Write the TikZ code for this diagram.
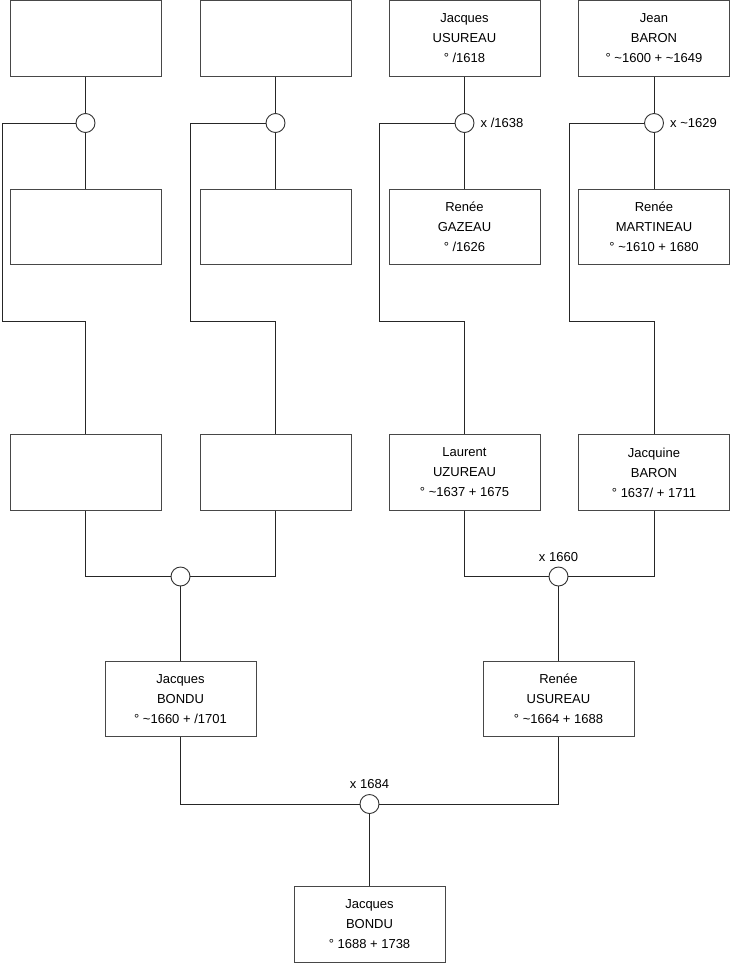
\documentclass[tikz,border=0pt]{standalone}
\usepackage{fontspec}
\setmainfont{Liberation Sans}
\usetikzlibrary{positioning}

\newcommand{\tld}{\textasciitilde}

\begin{document}
\begin{tikzpicture}[
    x=1pt, y=-1pt,
    person/.style={draw=black!72, line width=0.9pt, minimum width=151pt,
                   minimum height=75.5pt, inner sep=0pt, align=center,
                   font=\fontsize{13}{20}\selectfont},
    union/.style={circle, draw=black!80, line width=0.9pt, fill=white,
                  minimum size=19pt, inner sep=0pt},
    link/.style={black!85, line width=0.9pt},
    date/.style={font=\fontsize{13}{15}\selectfont, inner sep=0pt}
  ]
  \useasboundingbox (0,0) rectangle (740,975);

  % Generation 1
  \node[person] (g1a) at (85.5,38.5) {};
  \node[person] (g1b) at (275.5,38.5) {};
  \node[person] (g1c) at (464.5,38.5) {Jacques\\USUREAU\\° /1618};
  \node[person] (g1d) at (654,38.5) {Jean\\BARON\\° \tld1600 + \tld1649};

  % Generation 1 spouses
  \node[person] (g2a) at (85.5,227) {};
  \node[person] (g2b) at (275.5,227) {};
  \node[person] (g2c) at (464.5,227) {Renée\\GAZEAU\\° /1626};
  \node[person] (g2d) at (654,227) {Renée\\MARTINEAU\\° \tld1610 + 1680};

  % Marriages, generation 1
  \node[union] (ua) at (85.5,123) {};
  \node[union] (ub) at (275.5,123) {};
  \node[union] (uc) at (464.5,123) {};
  \node[union] (ud) at (654,123) {};
  \node[date, right=6pt of uc] (mc) {x /1638};
  \node[date, right=6pt of ud] (md) {x \tld1629};

  \foreach \u/\t/\b in {ua/g1a/g2a, ub/g1b/g2b, uc/g1c/g2c, ud/g1d/g2d} {
    \draw[link] (\t.south) -- (\u.north);
    \draw[link] (\u.south) -- (\b.north);
  }

  % Generation 2
  \node[person] (g3a) at (85.5,472.5) {};
  \node[person] (g3b) at (275.5,472.5) {};
  \node[person] (g3c) at (464.5,472.5) {Laurent\\UZUREAU\\° \tld1637 + 1675};
  \node[person] (g3d) at (654,472.5) {Jacquine\\BARON\\° 1637/ + 1711};

  % Children links
  \coordinate (ka) at (2,321);
  \coordinate (kb) at (190,321);
  \coordinate (kc) at (379.5,321);
  \coordinate (kd) at (569.5,321);
  \draw[link] (ua.west) -| (ka) -| (g3a.north);
  \draw[link] (ub.west) -| (kb) -| (g3b.north);
  \draw[link] (uc.west) -| (kc) -| (g3c.north);
  \draw[link] (ud.west) -| (kd) -| (g3d.north);

  % Marriages, generation 2
  \node[union] (ue) at (180.5,576.5) {};
  \node[union] (uf) at (558.5,576.5) {};
  \node[date, above=5pt of uf] (mf) {x 1660};
  \draw[link] (g3a.south) |- (ue.west);
  \draw[link] (ue.east) -| (g3b.south);
  \draw[link] (g3c.south) |- (uf.west);
  \draw[link] (uf.east) -| (g3d.south);

  % Generation 3
  \node[person] (g4a) at (180.5,699) {Jacques\\BONDU\\° \tld1660 + /1701};
  \node[person] (g4b) at (558.5,699) {Renée\\USUREAU\\° \tld1664 + 1688};
  \draw[link] (ue.south) -- (g4a.north);
  \draw[link] (uf.south) -- (g4b.north);

  % Marriage, generation 3
  \node[union] (ug) at (369.5,804) {};
  \node[date, above=5pt of ug] (mg) {x 1684};
  \draw[link] (g4a.south) |- (ug.west);
  \draw[link] (ug.east) -| (g4b.south);

  % Generation 4
  \node[person] (g5) at (369.5,924.5) {Jacques\\BONDU\\° 1688 + 1738};
  \draw[link] (ug.south) -- (g5.north);
\end{tikzpicture}
\end{document}
